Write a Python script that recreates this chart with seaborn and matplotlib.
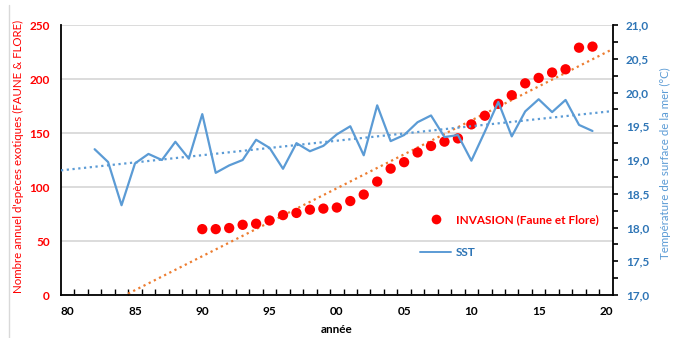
import matplotlib
matplotlib.use("Agg")
import matplotlib.pyplot as plt
from matplotlib.ticker import FixedLocator, FuncFormatter, MultipleLocator
from matplotlib.lines import Line2D
import numpy as np
import pandas as pd
import seaborn as sns

# Annual number of exotic species (fauna & flora)
years_inv = list(range(1990, 2020))
invasion = [61, 61, 62, 65, 66, 69, 74, 76, 79, 80,
            81, 87, 93, 105, 117, 123, 132, 138, 142, 145,
            158, 166, 177, 185, 196, 201, 206, 209, 229, 230]

# Sea surface temperature (°C)
years_sst = list(range(1982, 2020))
sst = [19.16, 18.97, 18.33, 18.95, 19.09, 19.00, 19.27, 19.02, 19.68, 18.81,
       18.92, 19.00, 19.30, 19.18, 18.87, 19.25, 19.13, 19.21, 19.38, 19.50,
       19.07, 19.81, 19.28, 19.37, 19.56, 19.66, 19.34, 19.37, 18.99, 19.42,
       19.86, 19.35, 19.72, 19.90, 19.71, 19.89, 19.52, 19.43]

year_labels = ["80", "85", "90", "95", "00", "05", "10", "15", "20"]
label_years = list(range(1980, 2021, 5))

df_inv = pd.DataFrame({"annee": years_inv, "invasion": invasion})
df_sst = pd.DataFrame({"annee": years_sst, "sst": sst})

sns.set_theme(style="white")
plt.rcParams["font.family"] = ["Lato", "DejaVu Sans"]

RED = "#FF0000"
ORANGE = "#ED7D31"
BLUE = "#5B9BD5"
BLUE_TXT = "#2E75B6"
GRID = "#D9D9D9"

fig = plt.figure(figsize=(6.74, 3.38), dpi=100)
ax = fig.add_axes([0.0905, 0.1272, 0.8185, 0.7988])
ax2 = ax.twinx()

XLIM = (1979.5, 2020.5)
ax.set_xlim(*XLIM)
ax.set_ylim(0, 250)
ax2.set_ylim(17.0, 21.0)

# invasion points and their linear trend
sns.scatterplot(data=df_inv, x="annee", y="invasion", ax=ax, color=RED,
                s=55, edgecolor="none", zorder=3, legend=False)
sns.regplot(data=df_inv, x="annee", y="invasion", ax=ax, scatter=False,
            ci=None, truncate=False,
            line_kws=dict(color=ORANGE, lw=1.6, ls=(0, (1, 1.6)), zorder=2))

# SST line and its linear trend
sns.lineplot(data=df_sst, x="annee", y="sst", ax=ax2, color=BLUE, lw=1.6,
             zorder=3, legend=False)
sns.regplot(data=df_sst, x="annee", y="sst", ax=ax2, scatter=False,
            ci=None, truncate=False,
            line_kws=dict(color=BLUE, lw=1.6, ls=(0, (1, 1.6)), zorder=2))

ax.set_xlim(*XLIM)
ax2.set_xlim(*XLIM)
ax.set_ylim(0, 250)
ax2.set_ylim(17.0, 21.0)

# gridlines from the left axis
ax.set_yticks([0, 50, 100, 150, 200, 250])
ax.grid(axis="y", color=GRID, lw=1.3)
ax.grid(axis="x", visible=False)
ax.set_axisbelow(True)

# x axis: labels at year centres, tick marks at year boundaries
ax.xaxis.set_major_locator(FixedLocator(label_years))
ax.set_xticklabels(year_labels)
ax.xaxis.set_minor_locator(FixedLocator(np.arange(1980.5, 2020.5, 1.0)))
ax.tick_params(axis="x", which="major", length=0, pad=8, labelsize=8.5,
               labelcolor="black")
ax.tick_params(axis="x", which="minor", bottom=True, direction="in",
               length=4, width=1, color="black")
for t in ax.get_xticklabels():
    t.set_fontweight("bold")

ax.tick_params(axis="y", which="major", length=0, pad=8, labelsize=8.5,
               labelcolor=RED)
for t in ax.get_yticklabels():
    t.set_fontweight("bold")

ax2.yaxis.set_major_locator(MultipleLocator(0.5))
ax2.yaxis.set_minor_locator(MultipleLocator(0.25))
ax2.yaxis.set_major_formatter(FuncFormatter(lambda v, p: f"{v:.1f}".replace(".", ",")))
ax2.tick_params(axis="y", which="both", direction="out", length=3.5, width=1.2,
                color="black", right=True)
ax2.tick_params(axis="y", which="major", pad=6, labelsize=8.5, labelcolor=BLUE_TXT)
for t in ax2.get_yticklabels():
    t.set_fontweight("bold")
ax2.grid(False)

for a in (ax, ax2):
    a.spines["top"].set_visible(False)
    for s in ("left", "bottom", "right"):
        a.spines[s].set_color("black")
        a.spines[s].set_linewidth(1.3)
ax.spines["right"].set_visible(False)
ax2.spines["left"].set_visible(False)
ax2.spines["bottom"].set_visible(False)

ax.set_xlabel("année", fontsize=8.5, fontweight="bold", color="black",
              va="center")
ax.xaxis.set_label_coords(0.5, -0.128)
ax.set_ylabel("Nombre annuel d'epèces exotiques (FAUNE & FLORE)", fontsize=8.3,
              color=RED, va="center")
ax.yaxis.set_label_coords(-0.077, 0.515)
ax2.set_ylabel("Température de surface de la mer (°C)", fontsize=8.3,
               color=BLUE, va="center", rotation=90)
ax2.yaxis.set_label_coords(1.0966, 0.487)

handles = [Line2D([], [], ls="none", marker="o", ms=7, color=RED, mec="none"),
           Line2D([], [], color=BLUE, lw=1.4)]
leg = fig.legend(handles, ["INVASION (Faune et Flore)", "SST"],
                 loc="upper left", bbox_to_anchor=(0.615, 0.384),
                 frameon=False, fontsize=8.5, handlelength=2.6,
                 handletextpad=0.4, labelspacing=1.85, borderpad=0)
leg.get_texts()[0].set_color(RED)
leg.get_texts()[1].set_color(BLUE_TXT)
for t in leg.get_texts():
    t.set_fontweight("bold")

# faint chart-area border on the left
fig.add_artist(Line2D([9 / 674, 9 / 674], [0, 1 - 5 / 338],
                      transform=fig.transFigure, color=GRID, lw=1))

fig.savefig("out.png", dpi=100)
